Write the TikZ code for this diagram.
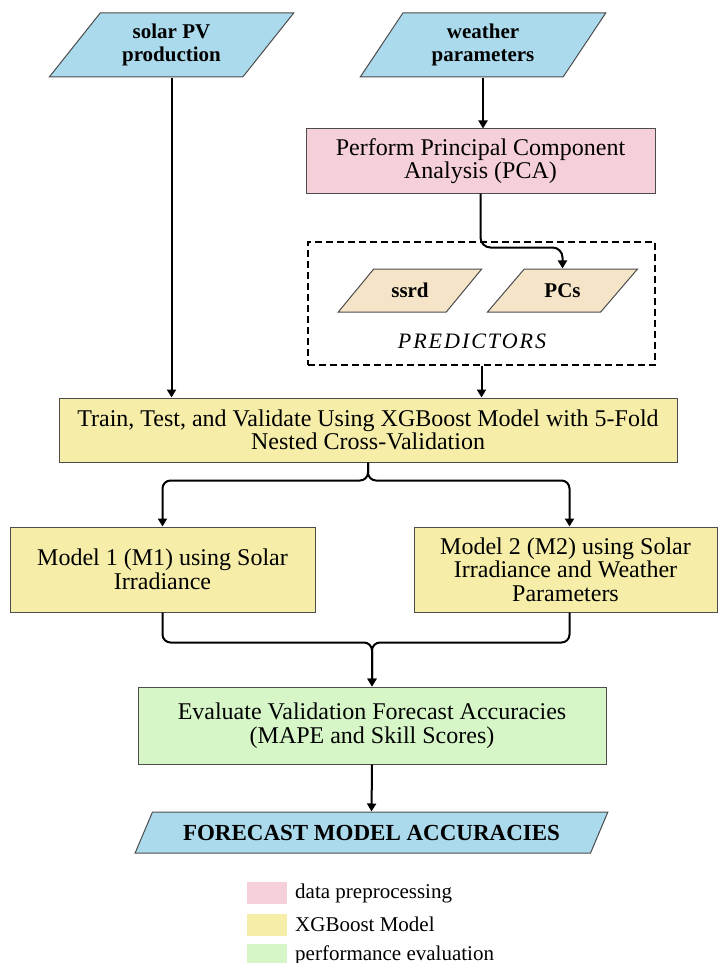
\documentclass[tikz,border=0pt]{standalone}
\usepackage{fontspec}
\setmainfont{Liberation Serif}
\usetikzlibrary{shapes.geometric,arrows.meta}
\definecolor{ioblue}{RGB}{170,218,236}
\definecolor{prepink}{RGB}{246,208,217}
\definecolor{xgbyellow}{RGB}{246,238,168}
\definecolor{evalgreen}{RGB}{214,246,200}
\definecolor{predtan}{RGB}{245,228,200}
\begin{document}
\begin{tikzpicture}[x=1pt, y=-1pt,
    iobox/.style={draw=black!70, line width=1pt, trapezium, trapezium stretches=true,
        trapezium left angle=#1, trapezium right angle=\the\numexpr180-#1\relax,
        inner sep=0pt, align=center, font=\fontsize{21}{23}\selectfont\bfseries},
    procbox/.style={draw=black!70, line width=1pt, rectangle, inner sep=0pt,
        align=center, font=\fontsize{24}{23.5}\selectfont},
    legsq/.style={rectangle, minimum width=40, minimum height=22, inner sep=0pt},
    legtxt/.style={anchor=west, inner sep=0pt, font=\fontsize{21}{21}\selectfont},
    arr/.style={line width=2pt, -{Triangle[length=8pt, width=9pt]}}]
    \useasboundingbox (0,0) rectangle (717,963);
    \node [iobox=50, fill=ioblue, minimum width=245, minimum height=64] (pv) at (171.5,45) {solar PV\\production};
    \node [iobox=57, fill=ioblue, minimum width=246, minimum height=64] (wx) at (483,45) {weather\\parameters};
    \node [procbox, fill=prepink, minimum width=349, minimum height=64] (pca) at (480.5,161) {Perform Principal Component\\Analysis (PCA)};
    \node [draw, dashed, dash pattern=on 7pt off 4pt, line width=2pt, minimum width=347, minimum height=123] (pred) at (481.5,303.5) {};
    \node [iobox=39, fill=predtan, minimum width=144, minimum height=43] (ssrd) at (410,290.5) {ssrd};
    \node [iobox=39, fill=predtan, minimum width=151, minimum height=43] (pcs) at (562.5,290.5) {PCs};
    \node [inner sep=0pt, font=\fontsize{22}{22}\selectfont\itshape\addfontfeature{LetterSpace=9}] (predlbl) at (472,341) {PREDICTORS};
    \node [procbox, fill=xgbyellow, minimum width=618, minimum height=64] (train) at (368,430) {Train, Test, and Validate Using XGBoost Model with 5-Fold\\Nested Cross-Validation};
    \node [procbox, fill=xgbyellow, minimum width=305, minimum height=85] (m1) at (162.5,569.5) {Model 1 (M1) using Solar\\Irradiance};
    \node [procbox, fill=xgbyellow, minimum width=303, minimum height=85] (m2) at (565.5,569.5) {Model 2 (M2) using Solar\\Irradiance and Weather\\Parameters};
    \node [procbox, fill=evalgreen, minimum width=468, minimum height=77] (eval) at (372,725.5) {Evaluate Validation Forecast Accuracies\\(MAPE and Skill Scores)};
    \node [iobox=46, fill=ioblue, minimum width=473, minimum height=41, font=\fontsize{23}{23}\selectfont\bfseries] (fc) at (371.5,832.5) {FORECAST MODEL ACCURACIES};
    \node [legsq, fill=prepink] (sqpre) at (267,893) {};
    \node [legsq, fill=xgbyellow] (sqxgb) at (267,924.5) {};
    \node [legsq, fill=evalgreen] (sqeval) at (267,955) {};
    \node [legtxt] (txtpre) at (295,893) {data preprocessing};
    \node [legtxt] (txtxgb) at (295,924.5) {XGBoost Model};
    \node [legtxt] (txteval) at (295,955) {performance evaluation};
    \draw [arr] (pv.south) -- (pv.south |- train.north);
    \draw [arr] (wx.south) -- (wx.south |- pca.north);
    \draw [arr, rounded corners=10] (pca.south) -- ++(0,54) -| (pcs.north);
    \draw [arr] (pred.south) -- (pred.south |- train.north);
    \draw [arr, rounded corners=8] (train.south) -- ++(0,18) -| (m1.north);
    \draw [arr, rounded corners=8] (train.south) -- ++(0,18) -| ([xshift=4]m2.north);
    \draw [arr, rounded corners=8] (m1.south) -- ++(0,30) -| (eval.north);
    \draw [arr, rounded corners=8] ([xshift=4]m2.south) -- ++(0,30) -| (eval.north);
    \draw [arr] (eval.south) -- (fc.north);
\end{tikzpicture}
\end{document}
